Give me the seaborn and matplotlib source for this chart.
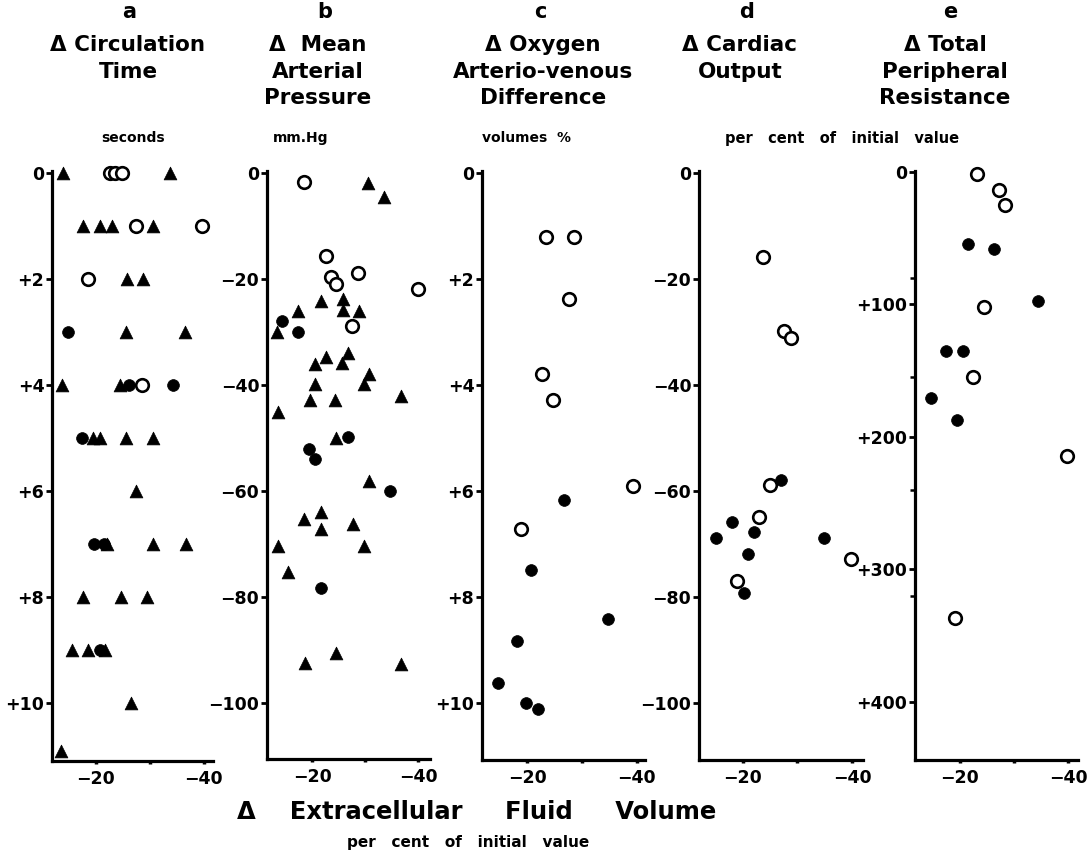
import matplotlib
matplotlib.use('Agg')
import matplotlib.pyplot as plt
import pandas as pd
import seaborn as sns

# a - circulation time, seconds
a_x = [-13.9, -33.7, -17.6, -20.7, -23.0, -30.6, -25.7, -28.7, -25.6, -36.5,
       -13.7, -24.4, -19.4, -20.7, -25.6, -30.6, -27.4, -22.0, -30.6, -36.7,
       -17.6, -24.6, -29.4, -15.6, -18.5, -21.7, -26.5, -13.5,
       -14.8, -26.1, -34.3, -17.4, -19.6, -21.5, -20.7,
       -22.6, -23.5, -24.8, -27.4, -39.6, -18.5, -28.5]
a_y = [0, 0, 1, 1, 1, 1, 2, 2, 3, 3,
       4, 4, 5, 5, 5, 5, 6, 7, 7, 7,
       8, 8, 8, 9, 9, 9, 10, 10.9,
       3, 4, 4, 5, 7, 7, 9,
       0, 0, 0, 1, 1, 2, 4]
a_kind = ['tri'] * 28 + ['dot'] * 7 + ['ring'] * 7

# b - mean arterial pressure, mm.Hg
b_x = [-30.5, -33.6, -21.6, -25.8, -25.8, -28.9, -17.4, -13.3, -22.6, -20.6,
       -26.7, -25.6, -30.8, -29.8, -20.6, -36.7, -19.6, -24.3, -13.5, -24.5,
       -30.8, -18.5, -21.6, -21.6, -27.7, -29.7, -13.5, -15.5, -18.7, -24.5, -36.7,
       -14.4, -17.4, -26.7, -19.4, -20.6, -34.7, -21.6,
       -18.5, -22.6, -23.5, -24.5, -28.7, -39.9, -27.6]
b_y = [-1.8, -4.6, -24.1, -23.8, -25.9, -26.0, -26.0, -30.0, -34.8, -36.0,
       -33.9, -35.9, -37.9, -39.9, -39.9, -42.1, -42.8, -42.9, -45.1, -50.0,
       -58.1, -65.2, -63.9, -67.2, -66.2, -70.4, -70.4, -75.3, -92.4, -90.5, -92.6,
       -27.9, -30.0, -49.9, -52.0, -54.0, -60.0, -78.4,
       -1.6, -15.7, -19.7, -20.9, -18.9, -21.9, -28.8]
b_kind = ['tri'] * 31 + ['dot'] * 7 + ['ring'] * 7

# c - oxygen arterio-venous difference, volumes %
c_x = [-26.8, -20.8, -34.8, -18.1, -14.8, -19.8, -22.0,
       -23.5, -28.5, -27.6, -22.7, -24.8, -39.4, -18.9]
c_y = [6.18, 7.50, 8.41, 8.83, 9.62, 10.01, 10.11,
       1.20, 1.20, 2.38, 3.79, 4.28, 5.90, 6.71]
c_kind = ['dot'] * 7 + ['ring'] * 7

# d - cardiac output, per cent of initial value
d_x = [-27.0, -22.0, -18.0, -15.1, -21.0, -20.2, -34.9,
       -23.7, -27.5, -28.8, -24.9, -23.0, -18.9, -39.8]
d_y = [-57.9, -67.8, -65.9, -68.8, -72.0, -79.2, -68.9,
       -15.8, -29.9, -31.2, -58.8, -65.0, -77.1, -72.9]
d_kind = ['dot'] * 7 + ['ring'] * 7

# e - total peripheral resistance, per cent of initial value
e_x = [-21.4, -26.3, -34.5, -17.5, -20.5, -14.6, -19.5,
       -23.2, -27.3, -28.4, -24.4, -22.5, -39.7, -19.1]
e_y = [54.7, 58.1, 97.9, 135.0, 135.0, 171.1, 187.7,
       1.7, 14.2, 25.3, 101.9, 154.6, 214.3, 336.9]
e_kind = ['dot'] * 7 + ['ring'] * 7

letters = ['a', 'b', 'c', 'd', 'e']
titles = [
    ['\u0394 Circulation', 'Time'],
    ['\u0394  Mean', 'Arterial', 'Pressure'],
    ['\u0394 Oxygen', 'Arterio-venous', 'Difference'],
    ['\u0394 Cardiac', 'Output'],
    ['\u0394 Total', 'Peripheral', 'Resistance'],
]
units = ['seconds', 'mm.Hg', 'volumes  %']
units_de = 'per   cent   of   initial   value'

y_ticks = [[0, 2, 4, 6, 8, 10],
           [0, -20, -40, -60, -80, -100],
           [0, 2, 4, 6, 8, 10],
           [0, -20, -40, -60, -80, -100],
           [0, 100, 200, 300, 400]]
y_tick_labels = [['0', '+2', '+4', '+6', '+8', '+10'],
                 ['0', '\u221220', '\u221240', '\u221260', '\u221280', '\u2212100'],
                 ['0', '+2', '+4', '+6', '+8', '+10'],
                 ['0', '\u221220', '\u221240', '\u221260', '\u221280', '\u2212100'],
                 ['0', '+100', '+200', '+300', '+400']]
e_minor_ticks = [80, 155, 240, 320]
x_ticks = [-20, -30, -40]
x_tick_labels = ['\u221220', '', '\u221240']

# layout in pixels: left, right, top, bottom, xlim, ylim
W, H = 1087, 860
boxes = [
    (52, 213, 171, 761, (-11.9, -41.7), (11.09, -0.04)),
    (267, 430, 171, 759, (-11.5, -42.2), (-110.6, 0.4)),
    (482, 645, 171, 760, (-11.8, -41.5), (11.08, -0.04)),
    (699, 863, 171, 760, (-12.0, -42.0), (-110.8, 0.4)),
    (915, 1078, 171, 760, (-11.7, -41.8), (443.9, -0.5)),
]
title_x = [128, 318, 543, 740, 945]
letter_x = [129, 325, 540, 747, 950]
title_y = [45, 72, 98]

sns.set_theme(style='white')
plt.rcParams['font.family'] = ['DejaVu Sans']
plt.rcParams['font.weight'] = 'bold'
plt.rcParams['text.color'] = 'black'
plt.rcParams['xtick.color'] = 'black'
plt.rcParams['ytick.color'] = 'black'

fig = plt.figure(figsize=(W / 100, H / 100), dpi=100)
fig.patch.set_facecolor('white')

panels = [(a_x, a_y, a_kind), (b_x, b_y, b_kind), (c_x, c_y, c_kind),
          (d_x, d_y, d_kind), (e_x, e_y, e_kind)]

for i, (px, py, pk) in enumerate(panels):
    left, right, top, bottom, xl, yl = boxes[i]
    ax = fig.add_axes([left / W, (H - bottom) / H, (right - left) / W, (bottom - top) / H])
    ax.set_facecolor('white')
    df = pd.DataFrame({'x': px, 'y': py, 'kind': pk})

    tri = df[df['kind'] == 'tri']
    if len(tri):
        sns.scatterplot(data=tri, x='x', y='y', marker='^', s=85, color='black',
                        edgecolor='black', linewidth=0.5, ax=ax, clip_on=False, zorder=3)
    dot = df[df['kind'] == 'dot']
    sns.scatterplot(data=dot, x='x', y='y', marker='o', s=72, color='black',
                    edgecolor='black', linewidth=0.5, ax=ax, clip_on=False, zorder=3)
    ring = df[df['kind'] == 'ring']
    sns.scatterplot(data=ring, x='x', y='y', marker='o', s=82, facecolor='white',
                    edgecolor='black', linewidth=1.9, ax=ax, clip_on=False, zorder=4)

    ax.set_xlim(*xl)
    ax.set_ylim(*yl)
    for side in ['top', 'right']:
        ax.spines[side].set_visible(False)
    for side in ['left', 'bottom']:
        ax.spines[side].set_linewidth(2.3)
        ax.spines[side].set_color('black')

    ax.set_yticks(y_ticks[i])
    ax.set_yticklabels(y_tick_labels[i], fontsize=12.5, fontweight='bold', color='black')
    ax.set_xticks(x_ticks)
    ax.set_xticklabels(x_tick_labels, fontsize=12.5, fontweight='bold', color='black')
    ax.tick_params(axis='y', direction='out', length=4.5, width=2, pad=1, colors='black', left=True)
    ax.tick_params(axis='x', direction='out', length=2.5, width=2.5, pad=4, colors='black', bottom=True)
    if i == 4:
        ax.set_yticks(e_minor_ticks, minor=True)
        ax.tick_params(axis='y', which='minor', direction='out', length=3.5, width=1.8, left=True)
    ax.set_xlabel('')
    ax.set_ylabel('')
    ax.grid(False)

    # titles
    fig.text(letter_x[i] / W, 1 - 12 / H, letters[i], ha='center', va='center', fontsize=15)
    for j, line in enumerate(titles[i]):
        fig.text(title_x[i] / W, 1 - title_y[j] / H, line, ha='center', va='center', fontsize=15.5)

unit_x = [133, 301, 527]
for i, u in enumerate(units):
    fig.text(unit_x[i] / W, 1 - 138 / H, u, ha='center', va='center', fontsize=10)
fig.text(842 / W, 1 - 138 / H, units_de, ha='center', va='center', fontsize=10.5)

fig.text(477 / W, 1 - 812 / H, '\u0394    Extracellular     Fluid     Volume',
         ha='center', va='center', fontsize=17.5)
fig.text(468 / W, 1 - 843 / H, 'per   cent   of   initial   value',
         ha='center', va='center', fontsize=11)

fig.savefig('out.png', dpi=100, facecolor='white')
